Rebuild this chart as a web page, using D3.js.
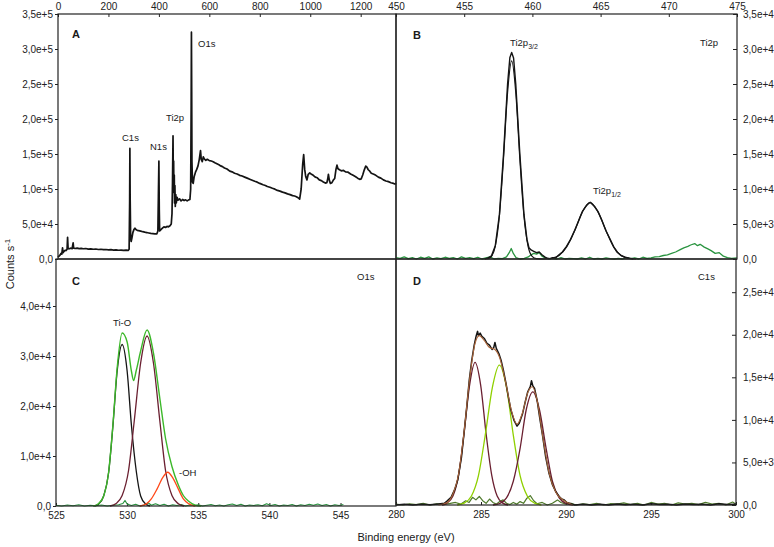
<!DOCTYPE html>
<html><head><meta charset="utf-8">
<script src="https://cdn.jsdelivr.net/npm/d3@7"></script>
<style>body{margin:0;background:#fff}svg{display:block;font-family:"Liberation Sans",Arial,sans-serif}</style>
</head><body><svg id="chart" width="774" height="547"></svg>
<script>
// ---------- DATA ----------
// Panel A: survey spectrum [binding energy eV, counts/s]
const surveyTicks = [0,200,400,600,800,1000,1200];
const surveyYTicks = [0,5e4,1e5,1.5e5,2e5,2.5e5,3e5,3.5e5];
const surveyData = [[0,2500],[4,4000],[8,5500],[12,8000],[15,7000],[18,16000],[20,9000],[24,11000],[28,12500],[32,12000],[36,14000],[38,31000],[40,15000],[44,14500],[50,15500],[56,14800],[60,23000],[62,15500],[68,15000],[76,15600],[84,14800],[92,15200],[100,14600],[110,15000],[120,14200],[130,14500],[140,13900],[150,14300],[160,13600],[170,13900],[180,13300],[190,13600],[200,13000],[210,13300],[220,12800],[230,13000],[240,12500],[250,12800],[260,12300],[270,12600],[278,12200],[282,14000],[284,80000],[285,158000],[286,90000],[288,30000],[290,25000],[293,30000],[297,38000],[301,42000],[305,44000],[309,42000],[314,41000],[320,40500],[328,39800],[336,39000],[344,38300],[352,37800],[360,37200],[368,36600],[376,36200],[384,35800],[392,36000],[396,40000],[398,90000],[400,140000],[401.5,70000],[403,40000],[408,42000],[414,44000],[420,46000],[426,45000],[432,46500],[438,46000],[444,47500],[449,50000],[452,65000],[454,110000],[456,176000],[457.5,100000],[458.5,140000],[459.5,95000],[461,120000],[462,80000],[463.5,105000],[465,75000],[467,92000],[469,80000],[472,88000],[476,84000],[482,86000],[488,83000],[494,85000],[500,83500],[506,84500],[512,83000],[518,84500],[523,85000],[526,100000],[528,220000],[529,324000],[530,240000],[531,140000],[533,110000],[536,108000],[540,118000],[545,124000],[550,128000],[555,133000],[560,142000],[565,155000],[568,142000],[572,139000],[576,146000],[580,143000],[586,141000],[592,142500],[600,140500],[608,140000],[615,139000],[622,137500],[630,136000],[638,134500],[645,133000],[652,132000],[660,130000],[670,128500],[681,125500],[690,124500],[700,122500],[710,121500],[720,119500],[730,118500],[740,117000],[750,115500],[760,114000],[770,112500],[780,111000],[790,109800],[800,108000],[813,106000],[822,105000],[830,103500],[840,102500],[850,101000],[860,99800],[870,98000],[880,97000],[890,95500],[900,94500],[910,93000],[920,92000],[930,90500],[938,90000],[945,89000],[952,87500],[958,85500],[964,100000],[970,135000],[974,149000],[978,128000],[982,118000],[987,113000],[992,121000],[998,123000],[1005,121000],[1012,119500],[1020,117000],[1028,116000],[1036,113000],[1044,112000],[1052,110000],[1060,108500],[1066,109000],[1070,116000],[1072,121000],[1076,112000],[1080,108000],[1086,109000],[1092,113000],[1097,115000],[1102,128000],[1106,134000],[1110,129000],[1116,127500],[1123,126000],[1132,126500],[1140,124500],[1150,124000],[1160,121500],[1170,119500],[1180,117500],[1188,115500],[1196,113800],[1202,114500],[1208,120000],[1214,127000],[1220,132800],[1224,131500],[1230,127500],[1236,125500],[1242,122400],[1252,121000],[1260,119500],[1270,117000],[1280,115500],[1290,113000],[1300,111500],[1310,110500],[1320,109000],[1330,108000],[1336,107000],[1340,108500]];

// Panel B: Ti2p region
const ti2pTicks = [450,455,460,465,470,475];
const ti2pYTicks = [0,5e3,1e4,1.5e4,2e4,2.5e4,3e4,3.5e4];
const ti2pData = [[456.5,0],[456.7,100],[457.0,450],[457.28,1900],[457.58,6300],[457.88,14900],[458.18,25000],[458.35,28800],[458.48,29500],[458.62,28700],[458.78,25000],[459.08,15000],[459.38,6400],[459.6,2800],[459.75,1600],[459.9,1300],[460.1,1100],[460.3,900],[460.5,1000],[460.7,600],[460.9,300],[461.1,100],[461.3,50],[461.5,200],[461.7,150],[461.95,600],[462.2,1000],[462.5,1800],[462.8,2800],[463.1,4100],[463.4,5500],[463.67,6800],[463.95,7600],[464.15,8000],[464.24,8100],[464.35,7900],[464.55,7500],[464.8,6800],[465.1,5500],[465.4,4000],[465.7,2800],[465.97,1700],[466.2,1000],[466.5,500],[466.8,250],[467.1,100],[467.4,0]];
const ti2pFit = [[456.7,0],[457.0,385],[457.28,1840],[457.58,6170],[457.88,14300],[458.18,23800],[458.48,28300],[458.78,23800],[459.08,14300],[459.38,6170],[459.68,1840],[459.98,385],[460.3,60],[460.8,0],[461.4,105],[461.95,503],[462.5,1690],[463.1,4025],[463.67,6770],[464.24,8050],[464.8,6770],[465.4,4025],[465.97,1690],[466.5,503],[467.1,105],[467.6,0]];
const ti2pResidual = [[450,200],[450.3,100],[450.6,300],[450.9,50],[451.2,200],[451.5,0],[451.8,250],[452.1,100],[452.4,300],[452.7,0],[453,150],[453.3,50],[453.6,250],[453.9,100],[454.2,200],[454.5,0],[454.8,300],[455.1,100],[455.4,200],[455.7,50],[456,250],[456.3,0],[456.6,150],[456.9,300],[457.2,0],[457.5,100],[457.8,50],[458.1,300],[458.3,900],[458.45,1500],[458.6,800],[458.8,200],[459.1,0],[459.4,100],[459.7,300],[459.9,600],[460.1,800],[460.3,700],[460.5,900],[460.7,400],[460.9,200],[461.2,0],[461.5,100],[461.8,0],[462.1,200],[462.4,0],[462.7,100],[463,50],[463.3,0],[463.6,150],[463.9,0],[464.2,250],[464.5,0],[464.8,100],[465.1,0],[465.4,150],[465.7,50],[466,0],[466.3,100],[466.6,0],[466.9,200],[467.2,50],[467.5,150],[467.8,0],[468.1,250],[468.4,100],[468.7,150],[469,300],[469.3,350],[469.6,500],[469.9,600],[470.2,800],[470.5,1000],[470.8,1300],[471.1,1600],[471.4,1800],[471.6,2000],[471.9,2200],[472.1,1900],[472.3,2100],[472.6,1700],[472.9,1400],[473.1,1200],[473.4,800],[473.7,900],[474,400],[474.3,200],[474.6,100],[475,150]];

// Panel C: O1s region
const o1sTicks = [525,530,535,540,545];
const o1sYTicks = [0,1e4,2e4,3e4,4e4];
const o1sEnvelope = [[527.6,0],[527.85,200],[528.0,500],[528.35,2000],[528.7,6800],[529.0,16200],[529.3,27600],[529.65,34600],[530.0,32800],[530.3,27000],[530.45,25100],[530.65,27200],[530.95,31000],[531.4,35200],[531.85,30600],[532.3,21500],[532.7,13500],[533.15,7900],[533.6,4200],[533.95,2100],[534.35,900],[534.8,150],[535.2,0]];
const o1sTiO = [[527.7,0],[528.0,400],[528.35,2000],[528.7,6700],[529.0,16000],[529.3,27000],[529.65,32300],[530.0,27000],[530.3,16200],[530.65,6800],[530.95,2000],[531.3,400],[531.6,0]];
const o1sSecond = [[528.8,0],[529.2,450],[529.65,2100],[530.1,7100],[530.5,17000],[530.95,28600],[531.4,34000],[531.85,28600],[532.3,17000],[532.7,7100],[533.15,2100],[533.6,450],[534.0,0]];
const o1sOH = [[530.9,0],[531.35,420],[531.7,1420],[532.1,3375],[532.5,5680],[532.85,6750],[533.2,5680],[533.6,3375],[533.95,1420],[534.35,420],[534.8,0]];
const o1sResidual = [[525,150],[525.4,0],[525.8,200],[526.2,50],[526.6,250],[527,0],[527.4,150],[527.8,50],[528.2,200],[528.6,0],[529,150],[529.4,250],[529.7,500],[529.85,1100],[530,400],[530.3,100],[530.6,350],[530.9,0],[531.2,200],[531.5,600],[531.7,150],[532,450],[532.3,100],[532.6,350],[532.9,0],[533.2,250],[533.5,100],[533.8,300],[534.1,0],[534.4,200],[534.7,50],[535,250],[535.3,0],[535.6,150],[535.9,300],[536.2,50],[536.5,200],[536.8,0],[537.1,250],[537.4,400],[537.7,100],[538,350],[538.3,0],[538.6,200],[538.9,100],[539.2,250],[539.5,50],[539.8,450],[540.1,100],[540.4,300],[540.7,0],[541,200],[541.3,100],[541.6,300],[541.9,0],[542.2,250],[542.5,100],[542.8,350],[543.1,150],[543.4,400],[543.7,100],[544,300],[544.3,0],[544.6,250],[544.9,100],[545.2,300]];

// Panel D: C1s region
const c1sTicks = [280,285,290,295,300];
const c1sYTicks = [0,5e3,1e4,1.5e4,2e4,2.5e4];
const c1sData = [[280,0],[280.5,100],[281,0],[281.5,80],[282,20],[282.5,120],[282.84,200],[283.0,450],[283.24,900],[283.45,1800],[283.63,2930],[283.85,5600],[284.02,8800],[284.18,11900],[284.31,14670],[284.45,16900],[284.6,18780],[284.72,19900],[284.8,20400],[284.85,19900],[284.95,20200],[285.05,19800],[285.2,19560],[285.35,19000],[285.5,18780],[285.65,18270],[285.75,18500],[285.82,19100],[285.9,18400],[286.05,17800],[286.18,17020],[286.32,15800],[286.47,14280],[286.62,12600],[286.76,11150],[286.95,9900],[287.12,9270],[287.25,9600],[287.45,10760],[287.6,12100],[287.75,13300],[287.9,13900],[287.97,14600],[288.05,14000],[288.15,13700],[288.3,12320],[288.45,10300],[288.63,8020],[288.8,5700],[289.0,3720],[289.2,2400],[289.4,1560],[289.6,1000],[289.75,700],[289.9,590],[290.05,300],[290.2,200],[290.5,0],[291,100],[291.5,0],[292,80],[292.5,0],[293,120],[293.5,40],[294,100],[294.5,0],[295,150],[295.5,60],[296,100],[296.5,0],[297,120],[297.5,50],[298,100],[298.5,0],[299,150],[299.5,50],[300,100]];
const c1sEnvelope = [[282.5,0],[283.0,300],[283.35,1300],[283.68,3600],[284.0,8500],[284.33,14800],[284.65,19000],[284.9,19900],[285.2,19300],[285.5,18500],[285.8,18300],[286.1,17300],[286.45,14400],[286.8,11000],[287.12,9500],[287.45,10900],[287.75,13200],[288.02,13900],[288.3,12300],[288.63,8100],[289.0,3800],[289.4,1500],[289.9,500],[290.4,0]];
const c1sPeak1 = [[282.7,0],[283.0,220],[283.35,1050],[283.68,3520],[284.0,8375],[284.33,14090],[284.65,16750],[284.98,14090],[285.3,8375],[285.63,3520],[285.95,1050],[286.28,220],[286.6,0]];
const c1sPeak2 = [[283.6,0],[284.0,215],[284.43,1030],[284.85,3450],[285.25,8215],[285.67,13820],[286.08,16430],[286.5,13820],[286.9,8215],[287.3,3450],[287.73,1030],[288.15,215],[288.55,0]];
const c1sPeak3 = [[285.7,0],[286.1,175],[286.5,830],[286.9,2790],[287.3,6650],[287.66,11190],[288.05,13300],[288.44,11190],[288.83,6650],[289.2,2790],[289.6,830],[290.0,175],[290.4,0]];
const c1sResidual = [[280,100],[280.4,0],[280.8,150],[281.2,50],[281.6,200],[282,0],[282.4,150],[282.8,50],[283.2,200],[283.5,300],[283.8,100],[284.1,500],[284.3,300],[284.5,900],[284.7,600],[284.9,1000],[285.1,500],[285.3,200],[285.5,700],[285.7,300],[285.9,100],[286.1,400],[286.3,600],[286.5,200],[286.7,50],[286.9,300],[287.1,100],[287.3,400],[287.5,200],[287.7,800],[287.9,1100],[288.1,500],[288.3,150],[288.6,300],[288.9,0],[289.2,200],[289.5,600],[289.7,300],[290,100],[290.3,200],[290.6,0],[291,150],[291.4,50],[291.8,200],[292.2,0],[292.6,150],[293,100],[293.4,250],[293.8,50],[294.2,200],[294.6,0],[295,300],[295.4,100],[295.8,200],[296.2,0],[296.6,250],[297,100],[297.4,200],[297.8,50],[298.2,300],[298.6,100],[299,200],[299.4,0],[299.8,350],[300,100]];

// ---------- DRAWING ----------
const svg = d3.select("#chart");
svg.append("rect").attr("width",774).attr("height",547).attr("fill","#fff");
const fmtE = v => v === 0 ? "0,0" : d3.format(".1e")(v).replace(".", ",");

const COL = {black:"#141414", green:"#2a9440", env:"#3cb82a", maroon:"#6a1f30", orange:"#ff4818", lime:"#8fd000", brown:"#a8643a", olive:"#4f7a2c", axis:"#222"};

function makePanel(p){
  const x = d3.scaleLinear().domain(p.xd).range([p.x0, p.x1]);
  const y = d3.scaleLinear().domain(p.yd).range([p.y1, p.y0]);
  const g = svg.append("g");
  return {x, y, g, p};
}
function styleAxis(sel){
  sel.select(".domain").remove();
  sel.selectAll(".tick line").attr("stroke", COL.axis);
  sel.selectAll(".tick text").attr("fill", "#222").style("font-size","10px").style("font-family",'"Liberation Sans",Arial,sans-serif');
}
function line(P, data, color, width, curve){
  const gen = d3.line().x(d => P.x(d[0])).y(d => P.y(d[1])).curve(curve || d3.curveLinear);
  P.g.append("path").datum(data).attr("d", gen).attr("fill","none")
    .attr("stroke", color).attr("stroke-width", width).attr("stroke-linejoin","round");
}
function frame(P){
  P.g.append("rect").attr("x",P.p.x0).attr("y",P.p.y0)
    .attr("width",P.p.x1-P.p.x0).attr("height",P.p.y1-P.p.y0)
    .attr("fill","none").attr("stroke",COL.axis).attr("stroke-width",1.2);
}
function label(x, y, txt, opts={}){
  const t = svg.append("text").attr("x",x).attr("y",y).attr("fill","#1a1a1a")
    .style("font-size",(opts.size||9.5)+"px").style("font-weight",opts.bold?"bold":"normal");
  if (opts.sub){
    t.append("tspan").text(txt);
    t.append("tspan").text(opts.sub).attr("dy",2.5).style("font-size","7px");
  } else t.text(txt);
  return t;
}

// Panel A
const A = makePanel({x0:58, x1:396, y0:14, y1:259, xd:[0,1340], yd:[0,3.5e5]});
A.g.append("g").attr("transform","translate(0,14)")
  .call(d3.axisTop(A.x).tickValues(surveyTicks).tickSize(-3).tickPadding(4).tickFormat(d3.format("d"))).call(styleAxis);
A.g.append("g").attr("transform","translate(58,0)")
  .call(d3.axisLeft(A.y).tickValues(surveyYTicks).tickSize(3).tickPadding(2).tickFormat(fmtE)).call(styleAxis);
line(A, surveyData, COL.black, 1.7);
frame(A);

// Panel B
const B = makePanel({x0:396, x1:737, y0:14, y1:259, xd:[450,475], yd:[0,3.5e4]});
B.g.append("g").attr("transform","translate(0,14)")
  .call(d3.axisTop(B.x).tickValues(ti2pTicks).tickSize(-3).tickPadding(4).tickFormat(d3.format("d"))).call(styleAxis);
B.g.append("g").attr("transform","translate(737,0)")
  .call(d3.axisRight(B.y).tickValues(ti2pYTicks).tickSize(-4).tickPadding(6).tickFormat(fmtE)).call(styleAxis);
line(B, ti2pResidual, COL.green, 1.3);
line(B, ti2pFit, COL.black, 1.2, d3.curveMonotoneX);
line(B, ti2pData, COL.black, 1.4);
frame(B);

// Panel C
const C = makePanel({x0:56, x1:396, y0:259, y1:506, xd:[525,548.9], yd:[0,4.94e4]});
C.g.append("g").attr("transform","translate(0,506)")
  .call(d3.axisBottom(C.x).tickValues(o1sTicks).tickSize(-3).tickPadding(6).tickFormat(d3.format("d"))).call(styleAxis);
C.g.append("g").attr("transform","translate(56,0)")
  .call(d3.axisLeft(C.y).tickValues(o1sYTicks).tickSize(3).tickPadding(2).tickFormat(fmtE)).call(styleAxis);
line(C, o1sResidual, COL.green, 1.2);
line(C, o1sTiO, COL.black, 1.3, d3.curveMonotoneX);
line(C, o1sSecond, COL.maroon, 1.3, d3.curveMonotoneX);
line(C, o1sOH, COL.orange, 1.3, d3.curveMonotoneX);
line(C, o1sEnvelope, COL.env, 1.4, d3.curveMonotoneX);
frame(C);

// Panel D
const D = makePanel({x0:396, x1:736, y0:259, y1:505, xd:[280,300], yd:[0,2.89e4]});
D.g.append("g").attr("transform","translate(0,505)")
  .call(d3.axisBottom(D.x).tickValues(c1sTicks).tickSize(-3).tickPadding(6).tickFormat(d3.format("d"))).call(styleAxis);
D.g.append("g").attr("transform","translate(736,0)")
  .call(d3.axisRight(D.y).tickValues(c1sYTicks).tickSize(-4).tickPadding(7).tickFormat(fmtE)).call(styleAxis);
line(D, c1sResidual, COL.olive, 1.2);
line(D, c1sPeak1, COL.maroon, 1.3, d3.curveMonotoneX);
line(D, c1sPeak2, COL.lime, 1.3, d3.curveMonotoneX);
line(D, c1sPeak3, COL.maroon, 1.3, d3.curveMonotoneX);
line(D, c1sData, COL.black, 1.5);
line(D, c1sEnvelope, COL.brown, 1.1, d3.curveMonotoneX);
frame(D);

// Annotations
label(72, 38, "A", {bold:true, size:11});
label(198, 47, "O1s");
label(166, 121, "Ti2p");
label(122, 141, "C1s");
label(150, 150, "N1s");
label(413, 39, "B", {bold:true, size:11});
label(510, 46, "Ti2p", {sub:"3/2"});
label(700, 46, "Ti2p");
label(593, 194, "Ti2p", {sub:"1/2"});
label(72, 285, "C", {bold:true, size:11});
label(357, 280, "O1s");
label(113, 326, "Ti-O");
label(179, 476, "-OH");
label(413, 285, "D", {bold:true, size:11});
label(698, 280, "C1s");

// Axis titles
const yt = svg.append("text").attr("transform","translate(14,264) rotate(-90)")
  .attr("text-anchor","middle").attr("fill","#1a1a1a").style("font-size","11px");
yt.append("tspan").text("Counts s");
yt.append("tspan").text("-1").attr("dy",-4).style("font-size","8px");
svg.append("text").attr("x",406).attr("y",541).attr("text-anchor","middle")
  .attr("fill","#1a1a1a").style("font-size","11px").text("Binding energy (eV)");
</script></body></html>
